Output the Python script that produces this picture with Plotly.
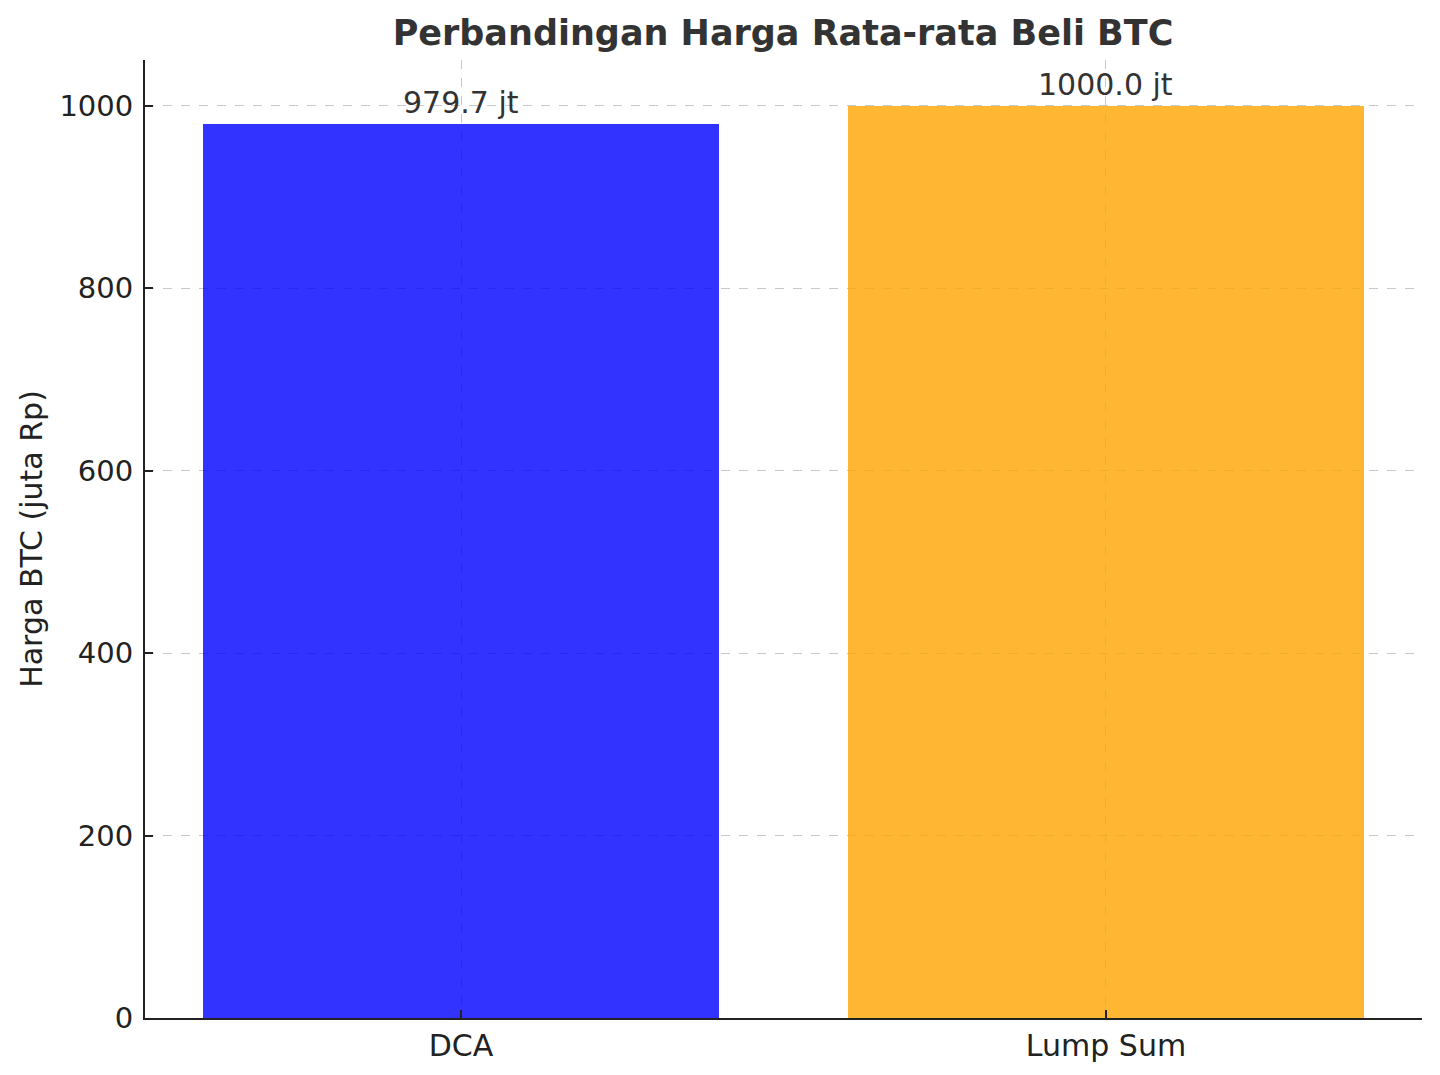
"""Perbandingan harga rata-rata beli BTC: DCA vs Lump Sum."""

import plotly.graph_objects as go

# Data
categories = ["DCA", "Lump Sum"]
avg_price = [979.7, 1000.0]  # juta Rp
bar_colors = ["rgba(0,0,255,0.8)", "rgba(255,165,0,0.8)"]
y_ticks = [0, 200, 400, 600, 800, 1000]

FONT = "DejaVu Sans"
GRID = "rgba(176,176,176,0.7)"
# page body has an 8px margin, so the plot margins are nudged to compensate
OFF = 8

fig = go.Figure()
fig.add_trace(
    go.Bar(
        x=list(range(len(categories))),
        y=avg_price,
        width=0.8,
        marker={"color": bar_colors, "line": {"width": 0}},
        hoverinfo="skip",
    )
)

# value labels above each bar
for i, v in enumerate(avg_price):
    fig.add_annotation(
        x=i, y=v, text=f"{v:.1f} jt", showarrow=False,
        xanchor="center", yanchor="bottom", yshift=2,
        font={"family": FONT, "size": 30, "color": "#333333"},
    )

fig.update_layout(
    width=1440,
    height=1075,
    plot_bgcolor="white",
    paper_bgcolor="white",
    showlegend=False,
    bargap=0,
    margin={"l": 145 - OFF, "r": 18 + OFF, "t": 60 - OFF, "b": 57 + OFF},
    font={"family": FONT, "size": 29, "color": "#222222"},
    title={
        "text": "<b>Perbandingan Harga Rata-rata Beli BTC</b>",
        "x": (783 - OFF) / 1440, "xanchor": "center", "xref": "container",
        "y": 1 - (33 - OFF) / 1075, "yanchor": "middle", "yref": "container",
        "font": {"family": FONT, "size": 35, "color": "#333333"},
    },
)
fig.update_xaxes(
    range=[-0.49, 1.49],
    tickmode="array",
    tickvals=list(range(len(categories))),
    ticktext=categories,
    tickfont={"size": 30},
    ticks="inside", ticklen=8, tickwidth=1.5, tickcolor="#222222",
    showline=True, linecolor="#222222", linewidth=2,
    showgrid=True, gridcolor=GRID, griddash="dash", gridwidth=1,
    zeroline=False, layer="above traces",
)
fig.update_yaxes(
    range=[0, 1050],
    tickvals=y_ticks,
    ticks="inside", ticklen=8, tickwidth=1.5, tickcolor="#222222",
    ticklabelstandoff=4,
    showline=True, linecolor="#222222", linewidth=2,
    showgrid=True, gridcolor=GRID, griddash="dash", gridwidth=1,
    zeroline=False, layer="above traces",
    title={"text": "Harga BTC (juta Rp)", "standoff": 8,
           "font": {"family": FONT, "size": 30, "color": "#222222"}},
)

fig.write_html("out.html")
